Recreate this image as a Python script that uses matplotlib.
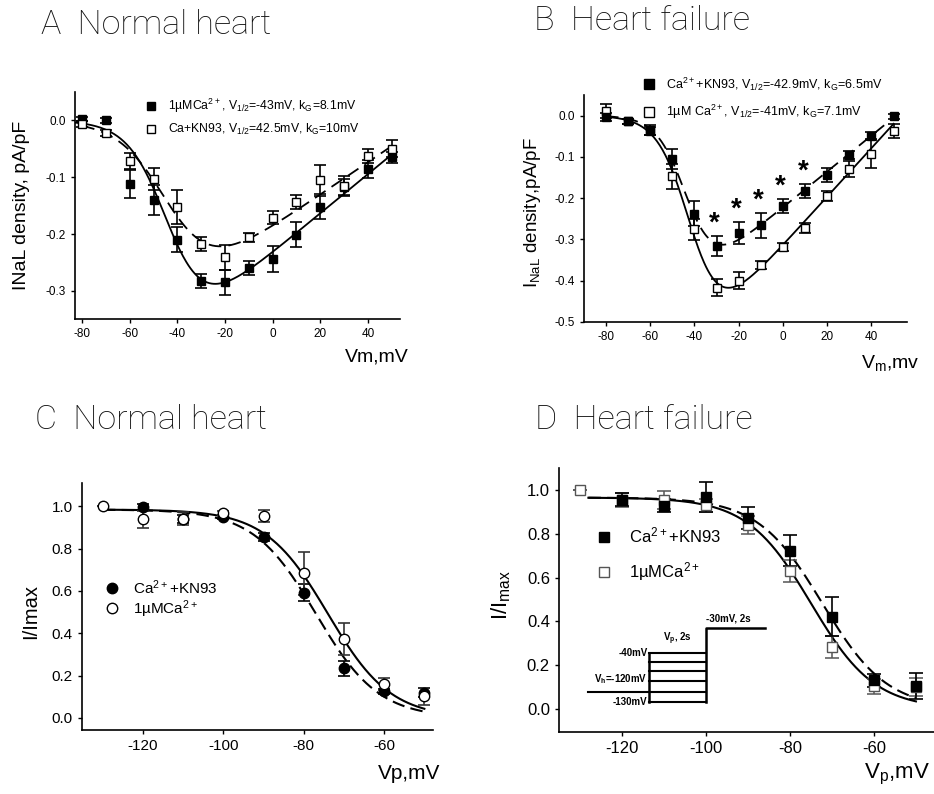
import numpy as np
import matplotlib.pyplot as plt
from matplotlib.lines import Line2D

plt.rcParams['font.family'] = ['Liberation Sans', 'DejaVu Sans']
plt.rcParams['mathtext.default'] = 'regular'
plt.rcParams['axes.linewidth'] = 1.2
plt.rcParams['axes.unicode_minus'] = False

# ---- panel A: normal heart, I-V ----
vm = [-80, -70, -60, -50, -40, -30, -20, -10, 0, 10, 20, 30, 40, 50]
a_ca_mean = [0.003, 0.0, -0.112, -0.14, -0.21, -0.283, -0.285, -0.26, -0.244, -0.201, -0.153, -0.118, -0.085, -0.065]
a_ca_err = [0.004, 0.004, 0.025, 0.027, 0.022, 0.012, 0.022, 0.013, 0.023, 0.022, 0.02, 0.015, 0.016, 0.01]
a_kn_mean = [-0.006, -0.022, -0.071, -0.103, -0.153, -0.218, -0.241, -0.206, -0.171, -0.144, -0.104, -0.115, -0.062, -0.05]
a_kn_err = [0.005, 0.005, 0.014, 0.02, 0.03, 0.012, 0.022, 0.008, 0.012, 0.012, 0.025, 0.017, 0.012, 0.015]
# fit params: v_half, k, g, e_rev
a_ca_fit = (-43, 8.1, 0.00345, 67.4)
a_kn_fit = (-42.5, 10, 0.00285, 65.8)

# ---- panel B: heart failure, I-V ----
b_kn_mean = [-0.003, -0.014, -0.038, -0.105, -0.238, -0.316, -0.285, -0.266, -0.219, -0.182, -0.143, -0.096, -0.05, -0.002]
b_kn_err = [0.01, 0.006, 0.01, 0.025, 0.03, 0.024, 0.026, 0.03, 0.017, 0.017, 0.017, 0.01, 0.009, 0.006]
b_ca_mean = [0.011, -0.014, -0.036, -0.147, -0.276, -0.417, -0.4, -0.362, -0.318, -0.272, -0.194, -0.13, -0.092, -0.038]
b_ca_err = [0.018, 0.006, 0.012, 0.03, 0.025, 0.02, 0.02, 0.01, 0.01, 0.012, 0.012, 0.02, 0.035, 0.017]
b_ca_fit = (-41, 7.1, 0.00588, 53.4)
b_kn_fit = (-42.9, 6.5, 0.00435, 51.15)
b_signif = [-30, -20, -10, 0, 10]

# ---- panels C, D: steady-state inactivation ----
vp = [-130, -120, -110, -100, -90, -80, -70, -60, -50]
c_kn_mean = [np.nan, 0.997, 0.94, 0.95, 0.856, 0.592, 0.235, 0.126, 0.12]
c_kn_err = [np.nan, 0.015, 0.02, 0.01, 0.02, 0.04, 0.035, 0.012, 0.02]
c_ca_mean = [1.0, 0.939, 0.942, 0.969, 0.955, 0.683, 0.375, 0.16, 0.102]
c_ca_err = [0.0, 0.04, 0.03, 0.01, 0.03, 0.1, 0.076, 0.03, 0.04]
# fit params: top, v_half, k
c_ca_fit = (0.985, -74, 7.8)
c_kn_fit = (0.985, -77, 7.8)

d_kn_mean = [np.nan, 0.955, 0.927, 0.967, 0.871, 0.723, 0.422, 0.131, 0.106]
d_kn_err = [np.nan, 0.03, 0.03, 0.07, 0.05, 0.07, 0.09, 0.03, 0.06]
d_ca_mean = [1.0, 0.954, 0.954, 0.93, 0.84, 0.628, 0.283, 0.103, 0.1]
d_ca_err = [0.0, 0.03, 0.04, 0.03, 0.04, 0.05, 0.05, 0.035, 0.04]
d_ca_fit = (0.965, -75, 7.6)
d_kn_fit = (0.965, -72.3, 7.7)

# voltage protocol sketch (schematic levels, drawn in panel D data units)
prot_x = [-128, -113.6, -100, -86]
prot_levels = [0.03, 0.076, 0.126, 0.172, 0.213, 0.255]
prot_hold = 0.076
prot_test = 0.369


def iv_fit(v, v_half, k, g, e_rev):
    return g * (v - e_rev) / (1 + np.exp((v_half - v) / k))


def inact_fit(v, top, v_half, k):
    return top / (1 + np.exp((v - v_half) / k))


def style_axes(ax, tick_size):
    ax.spines['top'].set_visible(False)
    ax.spines['right'].set_visible(False)
    ax.tick_params(direction='out', length=3, width=1, labelsize=tick_size)


def panel_title(x, y, letter, text):
    fig.text(x, y, letter + '  ' + text, fontsize=24.5, family='Roboto',
             fontweight='light', color='#111111', va='center', ha='left')


fig = plt.figure(figsize=(9.34, 7.94), dpi=100)

ebkw = dict(capsize=4.5, elinewidth=1.2, capthick=1.2, ecolor='black', ls='none')

# A
axA = fig.add_axes([0.0803, 0.598, 0.348, 0.286])
v = np.linspace(-83, 50, 300)
axA.plot(v, iv_fit(v, *a_ca_fit), color='black', lw=1.3, zorder=1)
v = np.linspace(-80, 52, 300)
axA.plot(v, iv_fit(v, *a_kn_fit), color='black', lw=1.3, ls=(0, (7, 4)), zorder=1)
axA.errorbar(vm, a_ca_mean, yerr=a_ca_err, marker='s', ms=5.5, mfc='black', mec='black', **ebkw)
axA.errorbar(vm, a_kn_mean, yerr=a_kn_err, marker='s', ms=5.5, mfc='white', mec='black', **ebkw)
axA.set_xlim(-83, 53.5)
axA.set_ylim(-0.35, 0.05)
axA.set_xticks(range(-80, 41, 20))
axA.set_yticks([0.0, -0.1, -0.2, -0.3])
axA.set_yticklabels(['0.0', '-0.1', '-0.2', '-0.3'])
style_axes(axA, 8.5)
axA.text(1.025, -0.165, 'Vm,mV', transform=axA.transAxes, ha='right', va='center', fontsize=14)
axA.text(-0.165, 0.5, 'INaL density, pA/pF', transform=axA.transAxes, rotation=90,
         ha='center', va='center', fontsize=14)
hA = [Line2D([], [], ls='none', marker='s', ms=5.5, mfc='black', mec='black'),
      Line2D([], [], ls='none', marker='s', ms=5.5, mfc='white', mec='black')]
fig.legend(hA, ['1µMCa$^{2+}$, V$_{1/2}$=-43mV, k$_G$=8.1mV',
                'Ca+KN93, V$_{1/2}$=42.5mV, k$_G$=10mV'],
           loc='upper left', bbox_to_anchor=(0.1547, 0.878), frameon=False, fontsize=8.8,
           handlelength=1, handletextpad=0.95, borderpad=0, borderaxespad=0, labelspacing=0.55)
panel_title(0.044, 0.968, 'A', 'Normal heart')

# B
axB = fig.add_axes([0.625, 0.5945, 0.346, 0.286])
v = np.linspace(-80, 50, 300)
axB.plot(v, iv_fit(v, *b_ca_fit), color='black', lw=1.3, zorder=1)
v = np.linspace(-80, 47, 300)
axB.plot(v, iv_fit(v, *b_kn_fit), color='black', lw=1.3, ls=(0, (7, 4)), zorder=1)
axB.errorbar(vm, b_ca_mean, yerr=b_ca_err, marker='s', ms=5.5, mfc='white', mec='black', **ebkw)
axB.errorbar(vm, b_kn_mean, yerr=b_kn_err, marker='s', ms=5.5, mfc='black', mec='black', **ebkw)
for xs in b_signif:
    i = vm.index(xs)
    axB.text(xs - 1, b_kn_mean[i] + b_kn_err[i] + 0.03, '*', ha='center', va='center',
             fontsize=20, fontweight='bold')
axB.set_xlim(-90, 56)
axB.set_ylim(-0.5, 0.05)
axB.set_xticks(range(-80, 41, 20))
axB.set_yticks([0.0, -0.1, -0.2, -0.3, -0.4, -0.5])
axB.set_yticklabels(['0.0', '-0.1', '-0.2', '-0.3', '-0.4', '-0.5'])
style_axes(axB, 8.5)
axB.text(1.04, -0.18, 'V$_m$,mv', transform=axB.transAxes, ha='right', va='center', fontsize=14)
axB.text(-0.16, 0.48, 'I$_{NaL}$ density,pA/pF', transform=axB.transAxes, rotation=90,
         ha='center', va='center', fontsize=13.5)
hB = [Line2D([], [], ls='none', marker='s', ms=6.5, mfc='black', mec='black'),
      Line2D([], [], ls='none', marker='s', ms=6.5, mfc='white', mec='black')]
fig.legend(hB, ['Ca$^{2+}$+KN93, V$_{1/2}$=-42.9mV, k$_G$=6.5mV',
                '1µM Ca$^{2+}$, V$_{1/2}$=-41mV, k$_G$=7.1mV'],
           loc='upper left', bbox_to_anchor=(0.688, 0.905), frameon=False, fontsize=9,
           handlelength=1, handletextpad=0.9, borderpad=0, borderaxespad=0, labelspacing=0.8)
panel_title(0.572, 0.974, 'B', 'Heart failure')

# C
axC = fig.add_axes([0.0878, 0.0806, 0.376, 0.311])
v = np.linspace(-130, -50, 300)
axC.plot(v, inact_fit(v, *c_ca_fit), color='black', lw=1.5, zorder=1)
axC.plot(v, inact_fit(v, *c_kn_fit), color='black', lw=1.5, ls=(0, (6, 3)), zorder=1)
axC.errorbar(vp, c_kn_mean, yerr=c_kn_err, marker='o', ms=7.5, mfc='black', mec='black', **ebkw)
axC.errorbar(vp, c_ca_mean, yerr=c_ca_err, marker='o', ms=7.5, mfc='white', mec='black',
             capsize=4.5, elinewidth=1.2, capthick=1.2, ecolor='#333333', ls='none')
axC.set_xlim(-135.2, -47.8)
axC.set_ylim(-0.057, 1.11)
axC.set_xticks([-120, -100, -80, -60])
axC.set_yticks([0.0, 0.2, 0.4, 0.6, 0.8, 1.0])
axC.set_yticklabels(['0.0', '0.2', '0.4', '0.6', '0.8', '1.0'])
style_axes(axC, 11)
axC.text(1.02, -0.175, 'Vp,mV', transform=axC.transAxes, ha='right', va='center', fontsize=15)
axC.text(-0.145, 0.48, 'I/Imax', transform=axC.transAxes, rotation=90,
         ha='center', va='center', fontsize=14.5)
hC = [Line2D([], [], ls='none', marker='o', ms=7.5, mfc='black', mec='black'),
      Line2D([], [], ls='none', marker='o', ms=7.5, mfc='white', mec='black')]
fig.legend(hC, ['Ca$^{2+}$+KN93', '1µMCa$^{2+}$'],
           loc='upper left', bbox_to_anchor=(0.112, 0.272), frameon=False, fontsize=11,
           handlelength=1, handletextpad=0.85, borderpad=0, borderaxespad=0, labelspacing=0.1)
panel_title(0.038, 0.471, 'C', 'Normal heart')

# D
axD = fig.add_axes([0.5985, 0.0781, 0.4015, 0.3325])
v = np.linspace(-128, -50, 300)
axD.plot(v, inact_fit(v, *d_ca_fit), color='black', lw=1.5, zorder=1)
axD.plot(v, inact_fit(v, *d_kn_fit), color='black', lw=1.5, ls=(0, (6, 3)), zorder=1)
axD.errorbar(vp, d_ca_mean, yerr=d_ca_err, marker='s', ms=7, mfc='white', mec='#555555',
             capsize=5, elinewidth=1.1, capthick=1.1, ecolor='#555555', ls='none')
axD.errorbar(vp, d_kn_mean, yerr=d_kn_err, marker='s', ms=7, mfc='black', mec='black',
             capsize=5, elinewidth=1.2, capthick=1.2, ecolor='black', ls='none')
# protocol sketch
axD.plot([prot_x[0], prot_x[1]], [prot_hold, prot_hold], color='black', lw=1.5)
axD.plot([prot_x[1], prot_x[1]], [prot_levels[0], prot_levels[-1]], color='black', lw=1.8)
for lev in prot_levels:
    axD.plot([prot_x[1], prot_x[2]], [lev, lev], color='black', lw=1.5)
axD.plot([prot_x[2], prot_x[2], prot_x[3]], [prot_levels[0], prot_test, prot_test],
         color='black', lw=1.8)
pk = dict(fontsize=7, fontweight='bold')
axD.text(prot_x[2], prot_test + 0.02, '-30mV, 2s', ha='left', va='bottom', **pk)
axD.text((prot_x[1] + prot_x[2]) / 2, prot_levels[-1] + 0.03, 'V$_p$, 2s', ha='center', va='bottom', **pk)
axD.text(prot_x[1] - 0.3, prot_levels[-1], '-40mV', ha='right', va='center', **pk)
axD.text(prot_x[1] - 0.3, 0.138, 'V$_h$=-120mV', ha='right', va='center', **pk)
axD.text(prot_x[1] - 0.3, prot_levels[0], '-130mV', ha='right', va='center', **pk)
axD.set_xlim(-135, -45.7)
axD.set_ylim(-0.105, 1.1)
axD.set_xticks([-120, -100, -80, -60])
axD.set_yticks([0.0, 0.2, 0.4, 0.6, 0.8, 1.0])
axD.set_yticklabels(['0.0', '0.2', '0.4', '0.6', '0.8', '1.0'])
style_axes(axD, 12)
axD.text(0.99, -0.16, 'V$_p$,mV', transform=axD.transAxes, ha='right', va='center', fontsize=16)
axD.text(-0.155, 0.52, 'I/I$_{max}$', transform=axD.transAxes, rotation=90,
         ha='center', va='center', fontsize=16)
hD = [Line2D([], [], ls='none', marker='s', ms=7, mfc='black', mec='black'),
      Line2D([], [], ls='none', marker='s', ms=7, mfc='white', mec='#555555')]
fig.legend(hD, ['Ca$^{2+}$+KN93', '1µMCa$^{2+}$'],
           loc='upper left', bbox_to_anchor=(0.638, 0.338), frameon=False, fontsize=12,
           handlelength=1, handletextpad=1.0, borderpad=0, borderaxespad=0, labelspacing=0.9)
panel_title(0.573, 0.471, 'D', 'Heart failure')

fig.savefig('out.png', dpi=100)
